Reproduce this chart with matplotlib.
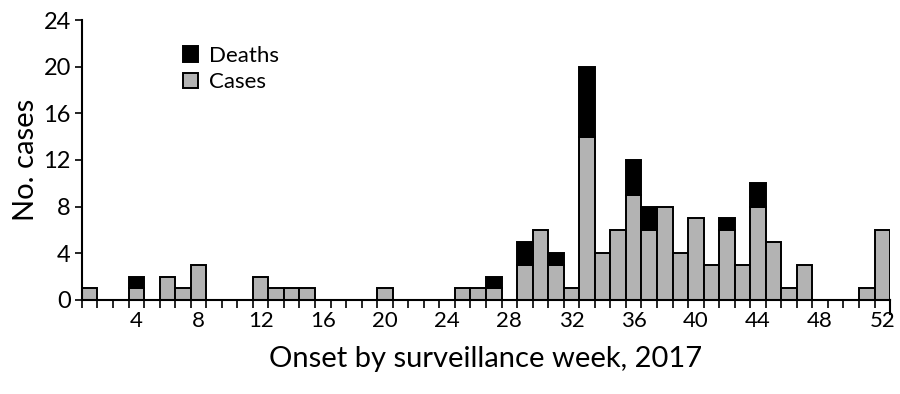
import numpy as np
import matplotlib.pyplot as plt

plt.rcParams['font.family'] = ['Lato', 'DejaVu Sans']

weeks = np.arange(1, 53)
cases = [1, 0, 0, 1, 0, 2, 1, 3, 0, 0, 0, 2, 1, 1, 1, 0, 0, 0, 0, 1,
         0, 0, 0, 0, 1, 1, 1, 0, 3, 6, 3, 1, 14, 4, 6, 9, 6, 8, 4, 7,
         3, 6, 3, 8, 5, 1, 3, 0, 0, 0, 1, 6]
deaths = [0, 0, 0, 1, 0, 0, 0, 0, 0, 0, 0, 0, 0, 0, 0, 0, 0, 0, 0, 0,
          0, 0, 0, 0, 0, 0, 1, 0, 2, 0, 1, 0, 6, 0, 0, 3, 2, 0, 0, 0,
          0, 1, 0, 2, 0, 0, 0, 0, 0, 0, 0, 0]
xticks = np.arange(4, 53, 4)
yticks = np.arange(0, 25, 4)

fig = plt.figure(figsize=(9, 3.94), dpi=100)
ax = fig.add_axes([0.091, 0.239, 0.898, 0.71])

cases = np.array(cases)
deaths = np.array(deaths)
c = cases > 0
d = deaths > 0
ax.bar(weeks[c], cases[c], width=1.0, color='#b3b3b3', edgecolor='black',
       linewidth=1.4, label='Cases')
ax.bar(weeks[d], deaths[d], bottom=cases[d], width=1.0, color='black',
       edgecolor='black', linewidth=1.4, label='Deaths')

ax.set_xlim(0.5, 52.5)
ax.set_ylim(0, 24)
ax.set_xticks(xticks)
ax.set_xticks(np.arange(0.5, 53, 1), minor=True)
ax.set_yticks(yticks)
ax.tick_params(axis='x', which='major', length=0, labelsize=16, pad=8)
ax.tick_params(axis='x', which='minor', length=6, width=1.2, direction='out')
ax.tick_params(axis='y', length=5, width=1.2, labelsize=17, pad=3)

for s in ['top', 'right']:
    ax.spines[s].set_visible(False)
for s in ['left', 'bottom']:
    ax.spines[s].set_linewidth(1.5)

# longer end tick at the right edge of the axis
ax.axvline(52.5, ymin=-0.05, ymax=0, color='black', lw=1.5, clip_on=False)

ax.set_xlabel('Onset by surveillance week, 2017', fontsize=21, labelpad=11)
ax.set_ylabel('No. cases', fontsize=21, labelpad=3)

h, l = ax.get_legend_handles_labels()
ax.legend(h[::-1], l[::-1], loc='upper left', bbox_to_anchor=(0.1, 0.98),
          frameon=False, fontsize=16, handlelength=0.7, handleheight=0.7,
          handletextpad=0.5, labelspacing=0.3)

fig.savefig('out.png', dpi=100)
